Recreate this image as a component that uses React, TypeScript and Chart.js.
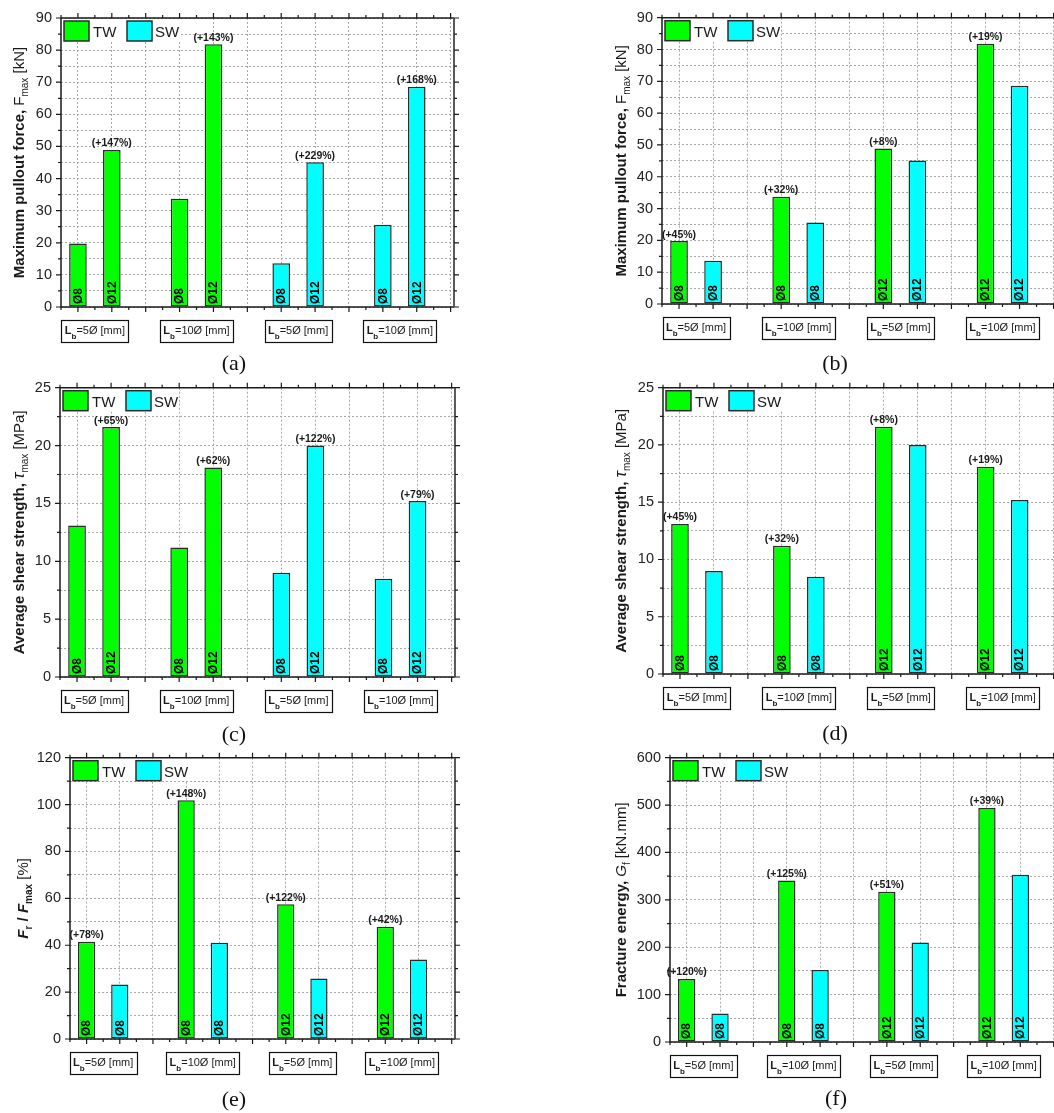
import React, { useEffect, useRef } from "react";
import { Chart, registerables } from "chart.js";

Chart.register(...registerables);

const SANS = "'Liberation Sans', Arial, Helvetica, sans-serif";
const SERIF = "'Liberation Serif', 'Times New Roman', Times, serif";
const GREEN = "#00ff00";
const CYAN = "#00ffff";
const BAR_EDGE = "#2b2b2b";
const GRID = "#a8a8a8";
const INK = "#1a1a1a";

// ---------- data ----------
const SERIES = ["TW", "SW"];
// specimen order: [Ø8 Lb=5Ø, Ø8 Lb=10Ø, Ø12 Lb=5Ø, Ø12 Lb=10Ø]
const SPECIMENS = ["Ø8", "Ø8", "Ø12", "Ø12"];
const GROUP_LABELS = ["5Ø", "10Ø", "5Ø", "10Ø"];
const GROUP_CENTERS = [1.5, 4.5, 7.5, 10.5];

// bar positions on the x axis
const POS_DIAM_TW = [1, 4, 2, 5]; // panels (a), (c)
const POS_DIAM_SW = [7, 10, 8, 11];
const POS_WELD_TW = [1, 4, 7, 10]; // panels (b), (d), (e), (f)
const POS_WELD_SW = [2, 5, 8, 11];

const FMAX_TW = [19.8, 33.7, 48.9, 81.8];
const FMAX_SW = [13.6, 25.6, 45.1, 68.6];
const TAU_TW = [13.1, 11.2, 21.6, 18.1];
const TAU_SW = [9.0, 8.5, 20.0, 15.2];
const FR_TW = [41.5, 101.9, 57.5, 47.9];
const FR_SW = [23.2, 41.1, 25.8, 33.9];
const GF_TW = [133, 341, 317, 494];
const GF_SW = [60, 152, 210, 353];

const PCT_A_TW = [null, null, "(+147%)", "(+143%)"];
const PCT_A_SW = [null, null, "(+229%)", "(+168%)"];
const PCT_B_TW = ["(+45%)", "(+32%)", "(+8%)", "(+19%)"];
const PCT_C_TW = [null, null, "(+65%)", "(+62%)"];
const PCT_C_SW = [null, null, "(+122%)", "(+79%)"];
const PCT_D_TW = ["(+45%)", "(+32%)", "(+8%)", "(+19%)"];
const PCT_E_TW = ["(+78%)", "(+148%)", "(+122%)", "(+42%)"];
const PCT_F_TW = ["(+120%)", "(+125%)", "(+51%)", "(+39%)"];
const NO_PCT = [null, null, null, null];

const FMAX_YTICKS = [0, 10, 20, 30, 40, 50, 60, 70, 80, 90];
const TAU_YTICKS = [0, 5, 10, 15, 20, 25];
const FR_YTICKS = [0, 20, 40, 60, 80, 100, 120];
const GF_YTICKS = [0, 100, 200, 300, 400, 500, 600];

const X_MIN = 0.5;
const X_MAX = 12.1;
const X_TICKS: number[] = [];
for (let v = 0.5; v <= 12.0001; v += 0.5) X_TICKS.push(Math.round(v * 2) / 2);

// ---------- panel layout ----------
type Seg = { t: string; f: string; dy?: number };
type PanelCfg = {
  id: string;
  canvas: [number, number, number, number];
  plot: { L: number; T: number; R: number; B: number };
  tw: number[];
  sw: number[];
  posTW: number[];
  posSW: number[];
  pctTW: (string | null)[];
  pctSW: (string | null)[];
  yMax: number;
  yMinor: number;
  yMajor: number[];
  title: Seg[];
  titleBase: number;
  label: [number, number];
};

const B15 = `bold 15px ${SANS}`;
const R15 = `15px ${SANS}`;
const R10 = `10px ${SANS}`;

const TITLE_F: Seg[] = [
  { t: "Maximum pullout force, ", f: B15 },
  { t: "F", f: R15 },
  { t: "max", f: R10, dy: 4 },
  { t: " [kN]", f: R15 },
];
const TITLE_TAU: Seg[] = [
  { t: "Average shear strength, ", f: B15 },
  { t: "τ", f: `italic 17px ${SANS}` },
  { t: "max", f: R10, dy: 4 },
  { t: " [MPa]", f: R15 },
];
const TITLE_FR: Seg[] = [
  { t: "F", f: `italic bold 15px ${SANS}` },
  { t: "r", f: `bold 10px ${SANS}`, dy: 4 },
  { t: " / ", f: B15 },
  { t: "F", f: `italic bold 15px ${SANS}` },
  { t: "max", f: `bold 10px ${SANS}`, dy: 4 },
  { t: " [%]", f: R15 },
];
const TITLE_GF: Seg[] = [
  { t: "Fracture energy, ", f: B15 },
  { t: "G", f: `italic 15px ${SANS}` },
  { t: "f", f: R10, dy: 4 },
  { t: " [kN.mm]", f: R15 },
];

const PANELS: PanelCfg[] = [
  {
    id: "(a)", canvas: [0, 0, 527, 370], plot: { L: 61, T: 18, R: 454, B: 307 },
    tw: FMAX_TW, sw: FMAX_SW, posTW: POS_DIAM_TW, posSW: POS_DIAM_SW,
    pctTW: PCT_A_TW, pctSW: PCT_A_SW, yMax: 90, yMinor: 5, yMajor: FMAX_YTICKS,
    title: TITLE_F, titleBase: 37, label: [234, 363],
  },
  {
    id: "(b)", canvas: [527, 0, 545, 370], plot: { L: 662, T: 14, R: 1057, B: 304 },
    tw: FMAX_TW, sw: FMAX_SW, posTW: POS_WELD_TW, posSW: POS_WELD_SW,
    pctTW: PCT_B_TW, pctSW: NO_PCT, yMax: 90, yMinor: 5, yMajor: FMAX_YTICKS,
    title: TITLE_F, titleBase: 36, label: [835, 363],
  },
  {
    id: "(c)", canvas: [0, 370, 527, 370], plot: { L: 60, T: 386, R: 455, B: 677 },
    tw: TAU_TW, sw: TAU_SW, posTW: POS_DIAM_TW, posSW: POS_DIAM_SW,
    pctTW: PCT_C_TW, pctSW: PCT_C_SW, yMax: 25, yMinor: 2.5, yMajor: TAU_YTICKS,
    title: TITLE_TAU, titleBase: 36, label: [234, 734],
  },
  {
    id: "(d)", canvas: [527, 370, 545, 370], plot: { L: 663, T: 385, R: 1057, B: 674 },
    tw: TAU_TW, sw: TAU_SW, posTW: POS_WELD_TW, posSW: POS_WELD_SW,
    pctTW: PCT_D_TW, pctSW: NO_PCT, yMax: 25, yMinor: 2.5, yMajor: TAU_YTICKS,
    title: TITLE_TAU, titleBase: 37, label: [835, 733],
  },
  {
    id: "(e)", canvas: [0, 740, 527, 373], plot: { L: 70, T: 757, R: 455, B: 1039 },
    tw: FR_TW, sw: FR_SW, posTW: POS_WELD_TW, posSW: POS_WELD_SW,
    pctTW: PCT_E_TW, pctSW: NO_PCT, yMax: 120, yMinor: 10, yMajor: FR_YTICKS,
    title: TITLE_FR, titleBase: 42, label: [234, 1099],
  },
  {
    id: "(f)", canvas: [527, 740, 545, 373], plot: { L: 670, T: 757, R: 1057, B: 1042 },
    tw: GF_TW, sw: GF_SW, posTW: POS_WELD_TW, posSW: POS_WELD_SW,
    pctTW: PCT_F_TW, pctSW: NO_PCT, yMax: 600, yMinor: 50, yMajor: GF_YTICKS,
    title: TITLE_GF, titleBase: 44, label: [836, 1098],
  },
];

const isInt = (v: number) => Math.abs(v - Math.round(v)) < 1e-6;

function drawSegs(ctx: CanvasRenderingContext2D, segs: Seg[], x0: number, y0: number) {
  let x = x0;
  for (const s of segs) {
    ctx.font = s.f;
    ctx.fillText(s.t, x, y0 + (s.dy || 0));
    x += ctx.measureText(s.t).width;
  }
}
function segsWidth(ctx: CanvasRenderingContext2D, segs: Seg[]) {
  let w = 0;
  for (const s of segs) {
    ctx.font = s.f;
    w += ctx.measureText(s.t).width;
  }
  return w;
}

function makeDecor(cfg: PanelCfg) {
  return {
    id: "decor",
    afterDatasetsDraw(chart: any) {
      const ctx = chart.ctx as CanvasRenderingContext2D;
      const { left, right, top, bottom } = chart.chartArea;
      const xs = chart.scales.x;
      const ys = chart.scales.y;
      ctx.save();

      // labels inside bars and percentage labels
      const pcts = [cfg.pctTW, cfg.pctSW];
      for (let di = 0; di < 2; di++) {
        const meta = chart.getDatasetMeta(di);
        meta.data.forEach((el: any, i: number) => {
          ctx.save();
          ctx.translate(el.x + 0.5, el.base - 2.5);
          ctx.rotate(-Math.PI / 2);
          ctx.font = `bold 12px ${SANS}`;
          ctx.fillStyle = "#000";
          ctx.textAlign = "left";
          ctx.textBaseline = "middle";
          ctx.fillText(SPECIMENS[i], 0, 0);
          ctx.restore();
          const p = pcts[di][i];
          if (p) {
            ctx.font = `bold 10.5px ${SANS}`;
            ctx.fillStyle = INK;
            ctx.textAlign = "center";
            ctx.textBaseline = "alphabetic";
            ctx.fillText(p, el.x, el.y - 3.5);
          }
        });
      }

      // legend
      ctx.fillStyle = "#fff";
      ctx.fillRect(left + 1, top + 1, 118, 22);
      const legendItems = [
        { name: SERIES[0], color: GREEN, bx: 3, tx: 32 },
        { name: SERIES[1], color: CYAN, bx: 66, tx: 94 },
      ];
      for (const it of legendItems) {
        ctx.fillStyle = it.color;
        ctx.fillRect(left + it.bx, top + 3, 25, 20);
        ctx.lineWidth = 1.5;
        ctx.strokeStyle = BAR_EDGE;
        ctx.strokeRect(left + it.bx, top + 3, 25, 20);
        ctx.fillStyle = INK;
        ctx.font = R15;
        ctx.textAlign = "left";
        ctx.textBaseline = "alphabetic";
        ctx.fillText(it.name, left + it.tx, top + 19);
      }

      // frame
      ctx.lineWidth = 1.5;
      ctx.strokeStyle = INK;
      ctx.beginPath();
      ctx.moveTo(left, top);
      ctx.lineTo(right, top);
      ctx.moveTo(left, top);
      ctx.lineTo(left, bottom);
      ctx.lineTo(right, bottom);
      ctx.stroke();
      ctx.strokeStyle = "#5a5a5a";
      ctx.lineWidth = 2;
      ctx.beginPath();
      ctx.moveTo(right, top);
      ctx.lineTo(right, bottom);
      ctx.stroke();

      // tick marks (outward, all four sides)
      ctx.strokeStyle = INK;
      ctx.lineWidth = 1.2;
      ctx.beginPath();
      xs.ticks.forEach((t: any) => {
        const x = xs.getPixelForValue(t.value);
        const len = isInt(t.value) ? 5 : 3;
        ctx.moveTo(x, bottom);
        ctx.lineTo(x, bottom + len);
        ctx.moveTo(x, top);
        ctx.lineTo(x, top - len);
      });
      ys.ticks.forEach((t: any) => {
        const y = ys.getPixelForValue(t.value);
        const len = cfg.yMajor.includes(t.value) ? 5 : 3;
        ctx.moveTo(left - len, y);
        ctx.lineTo(left, y);
        ctx.moveTo(right, y);
        ctx.lineTo(right + len, y);
      });
      ctx.stroke();

      // group label boxes
      GROUP_CENTERS.forEach((gc, gi) => {
        const cx = xs.getPixelForValue(gc);
        const segs: Seg[] = [
          { t: "L", f: `bold 11px ${SANS}` },
          { t: "b", f: `bold 8px ${SANS}`, dy: 4.5 },
          { t: "=" + GROUP_LABELS[gi] + " [mm]", f: `11px ${SANS}` },
        ];
        const w = segsWidth(ctx, segs);
        const bw = Math.round(w + 7);
        const bh = 22;
        const bx = Math.round(cx - bw / 2) + 0.5;
        const by = Math.round(bottom + 13) + 0.5;
        ctx.fillStyle = "#fff";
        ctx.fillRect(bx, by, bw, bh);
        ctx.strokeStyle = "#111";
        ctx.lineWidth = 1.2;
        ctx.strokeRect(bx, by, bw, bh);
        ctx.fillStyle = INK;
        ctx.textAlign = "left";
        ctx.textBaseline = "alphabetic";
        drawSegs(ctx, segs, cx - w / 2, by + 13.5);
      });

      // y-axis title (rotated)
      const tw = segsWidth(ctx, cfg.title);
      ctx.save();
      ctx.translate(left - cfg.titleBase, (top + bottom) / 2);
      ctx.rotate(-Math.PI / 2);
      ctx.fillStyle = INK;
      ctx.textAlign = "left";
      ctx.textBaseline = "alphabetic";
      drawSegs(ctx, cfg.title, -tw / 2, 0);
      ctx.restore();

      ctx.restore();
    },
  };
}

function PanelChart({ cfg }: { cfg: PanelCfg }) {
  const ref = useRef<HTMLCanvasElement>(null);
  const [cx, cy, cw, ch] = cfg.canvas;
  useEffect(() => {
    const c = ref.current;
    if (!c) return;
    const { L, T, R, B } = cfg.plot;
    const YW = 50;
    const mk = (vals: number[], pos: number[]) => vals.map((v, i) => ({ x: pos[i], y: v }));
    const barCommon = {
      borderColor: BAR_EDGE,
      borderWidth: 1.5,
      borderSkipped: false,
      grouped: false,
      barPercentage: 1.04,
      categoryPercentage: 1,
    };
    const chart = new Chart(c, {
      type: "bar",
      data: {
        datasets: [
          { label: SERIES[0], data: mk(cfg.tw, cfg.posTW), backgroundColor: GREEN, ...barCommon } as any,
          { label: SERIES[1], data: mk(cfg.sw, cfg.posSW), backgroundColor: CYAN, ...barCommon } as any,
        ],
      },
      options: {
        animation: false,
        responsive: false,
        maintainAspectRatio: false,
        devicePixelRatio: 1,
        events: [],
        layout: {
          padding: { left: L - cx - YW, top: T - cy, right: cx + cw - R, bottom: cy + ch - B },
        },
        plugins: { legend: { display: false }, tooltip: { enabled: false }, title: { display: false } },
        scales: {
          x: {
            type: "linear",
            min: X_MIN,
            max: X_MAX,
            bounds: "data",
            offset: false,
            afterBuildTicks: (s: any) => {
              s.ticks = X_TICKS.map((v) => ({ value: v }));
            },
            afterFit: (s: any) => {
              s.height = 0;
            },
            ticks: { display: false },
            grid: {
              offset: false,
              drawTicks: false,
              lineWidth: 1,
              color: (ctx: any) => (ctx.tick && isInt(ctx.tick.value) ? GRID : "rgba(0,0,0,0)"),
            },
            border: { display: false, dash: [2, 2] },
          } as any,
          y: {
            type: "linear",
            min: 0,
            max: cfg.yMax,
            afterFit: (s: any) => {
              s.width = YW;
            },
            ticks: {
              stepSize: cfg.yMinor,
              autoSkip: false,
              padding: 9,
              color: "#222",
              font: { family: SANS, size: 14.5 },
              callback: (v: any) => (cfg.yMajor.includes(Number(v)) ? String(v) : ""),
            },
            grid: { drawTicks: false, color: GRID, lineWidth: 1 },
            border: { display: false, dash: [2, 2] },
          } as any,
        },
      },
      plugins: [makeDecor(cfg)],
    });
    return () => chart.destroy();
  }, []);
  return (
    <canvas
      ref={ref}
      width={cw}
      height={ch}
      style={{ position: "absolute", left: cx, top: cy, width: cw, height: ch }}
    />
  );
}

export default function App() {
  return (
    <div
      style={{
        position: "fixed",
        left: 0,
        top: 0,
        width: 1054,
        height: 1113,
        overflow: "hidden",
        background: "#fff",
      }}
    >
      {PANELS.map((p) => (
        <PanelChart key={p.id} cfg={p} />
      ))}
      {PANELS.map((p) => (
        <div
          key={p.id + "-lbl"}
          style={{
            position: "absolute",
            left: p.label[0] - 40,
            top: p.label[1] - 14,
            width: 80,
            textAlign: "center",
            fontFamily: SERIF,
            fontSize: 22,
            lineHeight: "28px",
            color: "#111",
          }}
        >
          {p.id}
        </div>
      ))}
    </div>
  );
}
